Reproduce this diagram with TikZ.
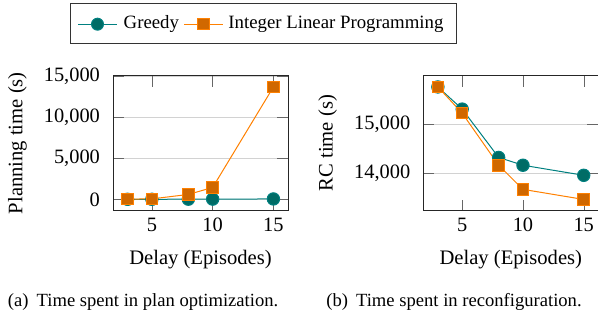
\documentclass[tikz,border=0pt]{standalone}
\usepackage{fontspec}
\setmainfont{Liberation Serif}
\usepackage{pgfplots}
\pgfplotsset{compat=1.18}
\definecolor{greedyline}{RGB}{0,128,128}
\definecolor{greedyfill}{RGB}{0,108,102}
\definecolor{ilpline}{RGB}{255,128,0}
\definecolor{ilpfill}{RGB}{208,104,0}
\pgfplotsset{
  timeplot/.style={
    scale only axis, width=87.5pt, height=67.5pt,
    anchor=south west,
    xmin=1.8, xmax=16.2, xtick={5,10,15},
    scaled y ticks=false,
    ymajorgrids, grid style={gray!35},
    axis line style={black!85},
    major tick style={black!60}, major tick length=5.5pt,
    tick label style={font=\fontsize{10.2}{12}\selectfont},
    yticklabel style={xshift=-3pt},
    label style={font=\fontsize{10.3}{12}\selectfont},
    xticklabel={\pgfmathprintnumber[assume math mode=true]{\tick}},
    yticklabel={\pgfmathprintnumber[assume math mode=true]{\tick}},
    xlabel style={at={(axis description cs:0.5,0)}, yshift=-26.9pt, anchor=base},
    ylabel style={at={(axis description cs:0,0.5)}, yshift=47.8pt, anchor=center},
    xlabel={Delay (Episodes)},
  },
  greedy/.style={color=greedyline, line width=0.5pt, mark=*, mark size=3.1pt,
    mark options={fill=greedyfill, draw=greedyline}},
  ilp/.style={color=ilpline, line width=0.5pt, mark=square*, mark size=2.9pt,
    mark options={fill=ilpfill, draw=ilpline}},
}
\tikzset{
  greedydot/.style={circle, fill=greedyfill, draw=greedyline, minimum size=6pt, inner sep=0pt},
  ilpdot/.style={rectangle, fill=ilpfill, draw=ilpline, minimum size=5.8pt, inner sep=0pt},
  legendtext/.style={anchor=base west, inner sep=0pt, font=\fontsize{9.4}{11}\selectfont},
  captext/.style={anchor=base west, inner sep=0pt, font=\fontsize{9.3}{11}\selectfont},
}
\begin{document}
\begin{tikzpicture}
  \useasboundingbox (0,0) rectangle (299pt,160pt);

  % legend
  \node (legendbox) [draw=black!80, minimum width=192.6pt, minimum height=20pt, inner sep=0pt] at (131.7pt,148.35pt) {};
  \coordinate (gA) at (39pt,147.9pt);
  \coordinate (gB) at (58.5pt,147.9pt);
  \draw [greedyline, line width=0.5pt] (gA) -- node [greedydot] (gdot) {} (gB);
  \node (gtext) [legendtext] at (61.65pt,145.5pt) {Greedy};
  \coordinate (iA) at (92pt,147.9pt);
  \coordinate (iB) at (111.5pt,147.9pt);
  \draw [ilpline, line width=0.5pt] (iA) -- node [ilpdot] (idot) {} (iB);
  \node (itext) [legendtext] at (114pt,145.5pt) {Integer Linear Programming};

  % (a) planning time
  \begin{axis}[timeplot, name=plana, at={(56.5pt,54.65pt)},
      ymin=-1370, ymax=15070, ytick={0,5000,10000,15000},
      ylabel={Planning time (s)}]
    \addplot [greedy] coordinates {(3,20) (5,20) (8,30) (10,40) (15,60)};
    \addplot [ilp] coordinates {(3,40) (5,70) (8,610) (10,1460) (15,13700)};
  \end{axis}

  % (b) reconfiguration time
  \begin{axis}[timeplot, name=plotb, at={(211.65pt,54.65pt)},
      ymin=13248, ymax=15983, ytick={14000,15000},
      ylabel={RC time (s)}]
    \addplot [greedy] coordinates {(3,15755) (5,15306) (8,14327) (10,14169) (15,13965)};
    \addplot [ilp] coordinates {(3,15755) (5,15224) (8,14169) (10,13680) (15,13476)};
  \end{axis}

  \node (capa) [captext] at (3.8pt,6.6pt) {(a)\hspace{4pt}Time spent in plan optimization.};
  \node (capb) [captext] at (163pt,6.6pt) {(b)\hspace{4pt}Time spent in reconfiguration.};
\end{tikzpicture}
\end{document}
